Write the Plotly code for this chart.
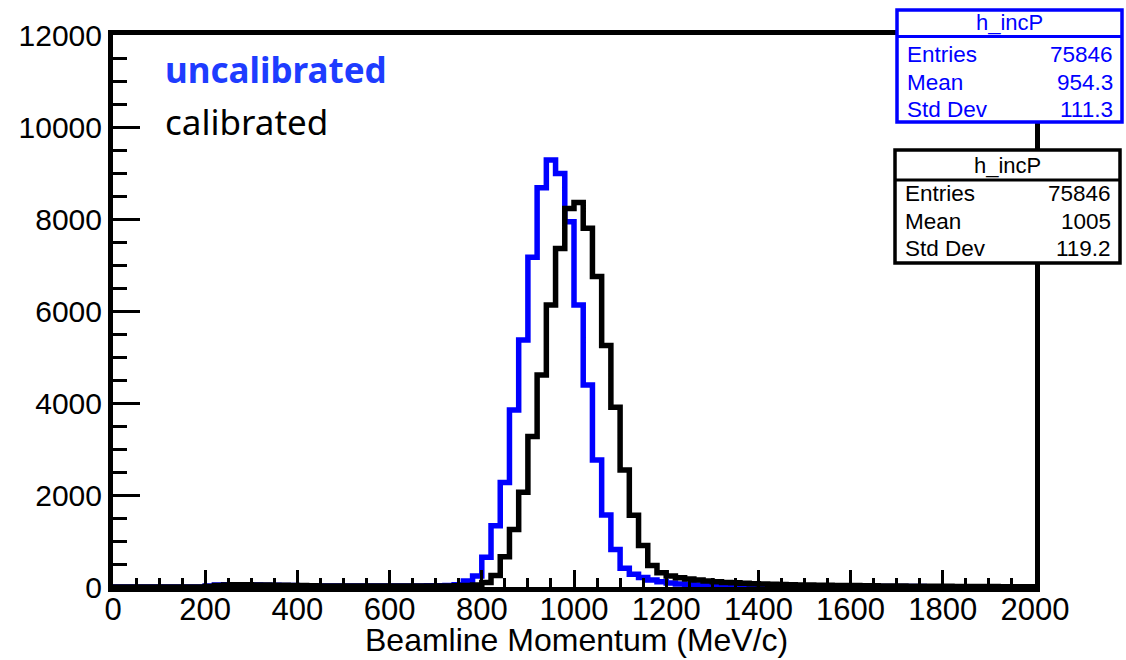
import numpy as np
import plotly.graph_objects as go

# ---------------- data ----------------
bin_width = 20          # MeV/c
x_min = 0

# h_incP, uncalibrated (blue), 100 bins from 0 to 2000
uncal_counts = [
    0, 0, 0, 0, 0, 0, 0, 0, 0, 0,                      # 0-180
    20, 45, 50, 50, 45, 45, 40, 40, 35, 30,            # 200-380
    25, 25, 20, 20, 20, 20, 20, 20, 20, 20,            # 400-580
    20, 20, 20, 20, 25, 25, 30, 50, 130, 240,          # 600-780
    645, 1330, 2270, 3850, 5370, 7170, 8680, 9280, 8990, 7940,   # 800-980
    6130, 4390, 2760, 1565, 815, 405, 275, 205, 150, 115,        # 1000-1180
    85, 65, 50, 42, 38, 34, 30, 28, 26, 24,            # 1200-1380
    22, 21, 20, 19, 18, 17, 16, 15, 15, 14,            # 1400-1580
    13, 12, 12, 11, 10, 10, 9, 9, 8, 8,                # 1600-1780
    7, 7, 6, 6, 5, 5, 5, 4, 4, 4,                      # 1800-1980
]

# h_incP, calibrated (black)
cal_counts = [
    0, 0, 0, 0, 0, 0, 0, 0, 0, 0,                      # 0-180
    10, 30, 45, 50, 50, 45, 45, 40, 40, 35,            # 200-380
    30, 25, 20, 20, 20, 20, 20, 20, 20, 20,            # 400-580
    20, 20, 20, 20, 20, 20, 20, 25, 30, 45,            # 600-780
    100, 250, 660, 1250, 2060, 3270, 4610, 6130, 7360, 8230,     # 800-980
    8360, 7800, 6750, 5250, 3905, 2545, 1560, 900, 470, 310,     # 1000-1180
    240, 200, 175, 150, 130, 115, 100, 90, 80, 72,     # 1200-1380
    65, 60, 55, 50, 46, 42, 40, 37, 35, 32,            # 1400-1580
    30, 28, 26, 24, 22, 20, 19, 18, 16, 15,            # 1600-1780
    14, 13, 12, 11, 10, 9, 8, 8, 7, 6,                 # 1800-1980
]

stats_uncal = [("Entries", "75846"), ("Mean", "954.3"), ("Std Dev", "111.3")]
stats_cal = [("Entries", "75846"), ("Mean", "1005"), ("Std Dev", "119.2")]
hist_name = "h_incP"

x_range = [0, 2000]
y_range = [0, 12000]
x_title = "Beamline Momentum (MeV/c)"
legend_labels = ["uncalibrated", "calibrated"]

BLUE = "#0000FF"
LABEL_FONT = "Liberation Sans, Arial, Helvetica, sans-serif"
LEGEND_FONT = "Noto Sans, Open Sans, sans-serif"

# ---------------- figure ----------------
edges = x_min + bin_width * np.arange(len(uncal_counts) + 1)


def step_xy(counts):
    return edges.tolist(), list(counts) + [counts[-1]]


fig = go.Figure()
for counts, color in [(uncal_counts, BLUE), (cal_counts, "black")]:
    xs, ys = step_xy(counts)
    fig.add_trace(go.Scatter(x=xs, y=ys, mode="lines", line_shape="hv",
                             line=dict(color=color, width=5.5), hoverinfo="skip"))

# plot area in px: x 113..1035, y 35..587
L, R, T, B = 113, 1035, 35, 587
W, H = 1126, 660


def px(xp):
    return (xp - L) / (R - L)


def py(yp):
    return (B - yp) / (B - T)


fig.update_layout(
    template="none",
    width=W, height=H,
    margin=dict(l=L, r=W - R, t=T, b=H - B, pad=0, autoexpand=False),
    paper_bgcolor="white", plot_bgcolor="white",
    showlegend=False,
    xaxis=dict(range=x_range, showgrid=False, zeroline=False, automargin=False,
               showline=True, linewidth=5, linecolor="black", mirror=True,
               ticks="inside", ticklen=17, tickwidth=3, tickcolor="black",
               tick0=0, dtick=200, tickformat="d",
               minor=dict(ticks="inside", ticklen=9, tickwidth=3, tickcolor="black", dtick=50),
               tickfont=dict(family=LABEL_FONT, size=31, color="black"),
               ticklabelstandoff=-9),
    yaxis=dict(range=y_range, showgrid=False, zeroline=False, automargin=False,
               showline=True, linewidth=5, linecolor="black", mirror=True,
               ticks="inside", ticklen=27, tickwidth=3, tickcolor="black",
               tick0=0, dtick=2000, tickformat="d",
               minor=dict(ticks="inside", ticklen=14, tickwidth=3, tickcolor="black", dtick=500),
               tickfont=dict(family=LABEL_FONT, size=30, color="black"),
               ticklabelstandoff=0),
)

# x-axis title
fig.add_annotation(x=px(576), y=py(640), xref="paper", yref="paper", xanchor="center", yanchor="middle",
                   text=x_title, showarrow=False,
                   font=dict(family=LABEL_FONT, size=32, color="black"))

# legend texts
fig.add_annotation(x=px(163), y=py(70), xref="paper", yref="paper", xanchor="left", yanchor="middle",
                   text="<b>%s</b>" % legend_labels[0], showarrow=False,
                   font=dict(family=LEGEND_FONT, size=35, color="#1E3CFF"))
fig.add_annotation(x=px(163), y=py(121), xref="paper", yref="paper", xanchor="left", yanchor="middle",
                   text=legend_labels[1], showarrow=False,
                   font=dict(family=LEGEND_FONT, size=35, color="black"))


def stat_box(x0, x1, y0, y1, ydiv, color, rows, row_ys, title_y):
    fig.add_shape(type="rect", xref="paper", yref="paper",
                  x0=px(x0), x1=px(x1), y0=py(y1), y1=py(y0),
                  line=dict(color=color, width=3.5), fillcolor="white", layer="above")
    fig.add_shape(type="line", xref="paper", yref="paper",
                  x0=px(x0), x1=px(x1), y0=py(ydiv), y1=py(ydiv),
                  line=dict(color=color, width=3), layer="above")
    fig.add_annotation(x=px((x0 + x1) / 2), y=py(title_y), xref="paper", yref="paper",
                       xanchor="center", yanchor="middle", text=hist_name, showarrow=False,
                       font=dict(family=LABEL_FONT, size=22, color=color))
    for (lab, val), yy in zip(rows, row_ys):
        fig.add_annotation(x=px(x0 + 8), y=py(yy), xref="paper", yref="paper",
                           xanchor="left", yanchor="middle", text=lab, showarrow=False,
                           font=dict(family=LABEL_FONT, size=22.5, color=color))
        fig.add_annotation(x=px(x1 - 7), y=py(yy), xref="paper", yref="paper",
                           xanchor="right", yanchor="middle", text=val, showarrow=False,
                           font=dict(family=LABEL_FONT, size=22.5, color=color))


stat_box(897, 1122, 10, 122, 36.5, BLUE, stats_uncal, [54, 82, 109], 23)
stat_box(895, 1120, 150, 263, 180, "black", stats_cal, [194, 222, 249], 165)

fig.write_html("out.html", config={"displayModeBar": False},
               post_script="document.body.style.margin='0';document.body.style.overflow='hidden';")
